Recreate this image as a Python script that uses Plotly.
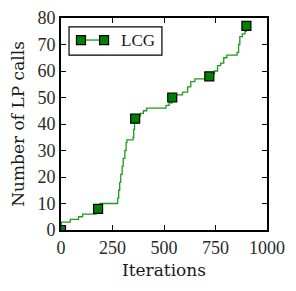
import plotly.graph_objects as go

# staircase trace of LP calls vs iterations
iter_x = [0, 2, 45, 85, 105, 170, 190, 270, 275, 280, 285, 290, 297, 302, 310, 316, 320, 350, 353, 357,
          370, 385, 400, 416, 510, 525, 540, 555, 590, 615, 630, 650, 690, 715, 730, 745, 760, 775, 790,
          805, 855, 862, 868, 880, 893, 900]
lp_calls = [0, 3, 4, 5, 6, 8, 10, 10, 12, 15, 18, 21, 24, 27, 30, 33, 34, 35, 38, 42,
            43, 44, 45, 46, 47, 48, 50, 51, 52, 54, 56, 57, 57, 58, 59, 60, 62, 63, 65,
            66, 67, 70, 73, 74, 75, 77]

marker_x = [0, 180, 360, 540, 720, 900]
marker_y = [0, 8, 42, 50, 58, 77]

x_ticks = [0, 250, 500, 750, 1000]
y_ticks = [0, 10, 20, 30, 40, 50, 60, 70, 80]

series_name = "LCG"

GREEN = "#008000"
LINE_GREEN = "#1f9a1f"
TICK_FONT = "Liberation Serif"
TITLE_FONT = "DejaVu Serif"

fig = go.Figure()
fig.add_trace(go.Scatter(x=iter_x, y=lp_calls, mode="lines", line=dict(color=LINE_GREEN, width=1.3, shape="hv"),
                         showlegend=False, hoverinfo="skip"))
fig.add_trace(go.Scatter(x=marker_x, y=marker_y, mode="markers",
                         marker=dict(symbol="square", size=9, color=GREEN, line=dict(color="black", width=1.2)),
                         showlegend=False))

axis_common = dict(showgrid=False, zeroline=False, showline=True, linecolor="black", linewidth=2,
                   mirror="ticks", ticks="inside", ticklen=5, tickwidth=1.2, tickcolor="black",
                   automargin=False,
                   tickfont=dict(family=TICK_FONT, size=18, color="#2a2a2a"))

# custom legend box (matplotlib style: two markers joined by a line)
shapes = [
    dict(type="rect", xref="paper", yref="paper", x0=0.039, x1=0.49, y0=0.825, y1=0.958,
         line=dict(color="black", width=1.2), fillcolor="white", layer="above"),
    dict(type="line", xref="paper", yref="paper", x0=0.097, x1=0.209, y0=0.896, y1=0.896,
         line=dict(color=LINE_GREEN, width=1.3), layer="above"),
]
for lx in (0.097, 0.209):
    shapes.append(dict(type="rect", xref="paper", yref="paper", xsizemode="pixel", ysizemode="pixel",
                       xanchor=lx, yanchor=0.896, x0=-4.5, x1=4.5, y0=-4.5, y1=4.5,
                       fillcolor=GREEN, line=dict(color="black", width=1.2), layer="above"))

fig.update_layout(
    width=288, height=283,
    margin=dict(l=53, r=29, t=10, b=61),
    paper_bgcolor="white", plot_bgcolor="white",
    font=dict(family=TICK_FONT, color="black"),
    showlegend=False,
    shapes=shapes,
    annotations=[dict(text=series_name, xref="paper", yref="paper", x=0.28, y=0.896, xanchor="left",
                      yanchor="middle", showarrow=False, font=dict(family=TICK_FONT, size=17, color="#1a1a1a"))],
    xaxis=dict(range=[0, 1000], tickvals=x_ticks,
               title=dict(text="Iterations", font=dict(family=TITLE_FONT, size=17, color="#1a1a1a"), standoff=8),
               **axis_common),
    yaxis=dict(range=[0, 80], tickvals=y_ticks,
               title=dict(text="Number of LP calls", font=dict(family=TITLE_FONT, size=17, color="#1a1a1a"), standoff=8),
               **axis_common),
)

fig.write_html("out.html")
